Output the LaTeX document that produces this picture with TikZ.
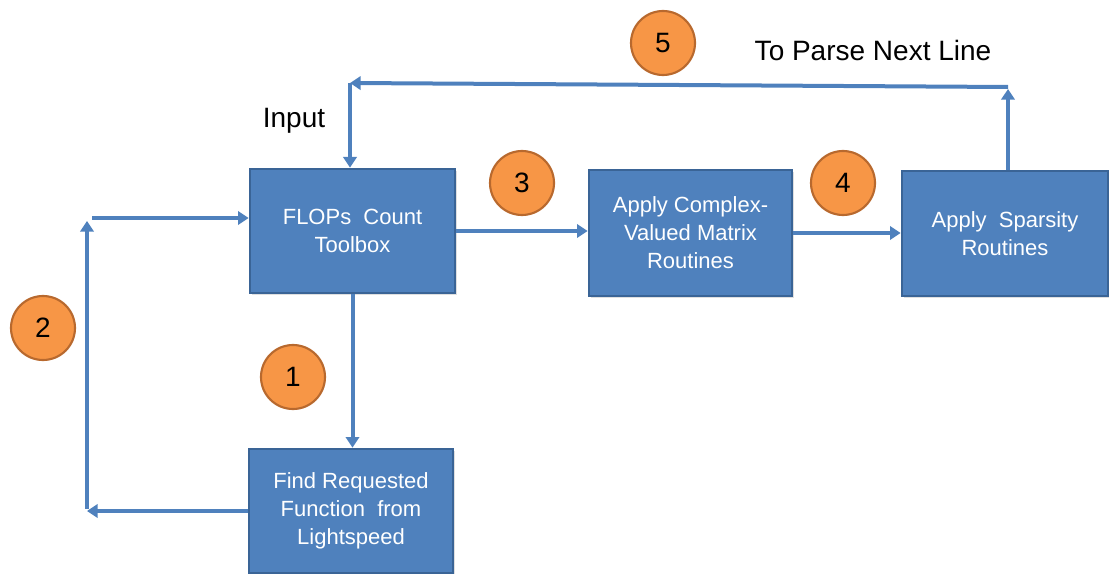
\documentclass[tikz,border=0pt]{standalone}
\usepackage{fontspec}
\setmainfont{Liberation Sans}
\usetikzlibrary{arrows.meta,shadows}
\definecolor{boxblue}{HTML}{4F81BD}
\definecolor{boxedge}{HTML}{3A6496}
\definecolor{badgefill}{HTML}{F79646}
\definecolor{badgeedge}{HTML}{B8692E}
\definecolor{flowblue}{HTML}{4F81BD}
\tikzset{
  stagebox/.style={draw=boxedge, line width=2pt, fill=boxblue, text=white,
    align=center, font=\fontsize{16.5}{21}\selectfont, inner sep=0pt,
    drop shadow={shadow xshift=1.2pt, shadow yshift=-1.2pt, opacity=0.25}},
  badge/.style={circle, draw=badgeedge, line width=1.6pt, fill=badgefill,
    minimum size=48pt, inner sep=0pt, font=\fontsize{21}{21}\selectfont},
  caption/.style={font=\fontsize{21}{24}\selectfont, inner sep=0pt},
  flow/.style={draw=flowblue, line width=3pt,
    -{Triangle[length=8pt,width=10pt]}},
  flowline/.style={draw=flowblue, line width=3pt}
}
\begin{document}
\begin{tikzpicture}[x=0.75pt,y=-0.75pt]
  \useasboundingbox (0,0) rectangle (1109,574);

  % processing stages
  \node[stagebox, minimum width=153.75pt, minimum height=93pt] (toolbox) at (352.5,231)
    {FLOPs\ \ Count\\Toolbox};
  \node[stagebox, minimum width=152.25pt, minimum height=94.5pt] (complex) at (690.5,233)
    {Apply Complex-\\Valued Matrix\\Routines};
  \node[stagebox, minimum width=154.5pt, minimum height=93.75pt] (sparse) at (1005,233.5)
    {Apply\ \ Sparsity\\Routines};
  \node[stagebox, minimum width=153pt, minimum height=93pt] (find) at (351,511)
    {Find Requested\\Function\ \ from\\Lightspeed};

  % step numbers
  \node[badge] (s1) at (293,377) {1};
  \node[badge] (s2) at (43,328) {2};
  \node[badge] (s3) at (522,183) {3};
  \node[badge] (s4) at (843,183) {4};
  \node[badge] (s5) at (663,43) {5};

  % labels
  \node[caption] (input) at (294,121) {Input};
  \node[caption] (next) at (873,50) {To Parse Next Line};

  % loop corners
  \coordinate (topR) at (1008,87);
  \coordinate (topL) at (350,83);
  \coordinate (botL) at (87,509);
  \coordinate (upL) at (87,221);
  \coordinate (inL) at (92,218);

  % main path
  \draw[flow] (toolbox.south) -- (toolbox.south |- find.north);
  \draw[flow] (find.west) -- (find.west -| botL);
  \draw[flow] (botL) -- (upL);
  \draw[flow] (inL) -- (inL -| toolbox.west);
  \draw[flow] (toolbox.east) -- (toolbox.east -| complex.west);
  \draw[flow] (complex.east) -- (complex.east -| sparse.west);

  % return to the next line
  \draw[flow] (sparse.north -| topR) -- ([yshift=-1.5pt]topR);
  \draw[flow] (topR) -- (topL);
  \draw[flow] (topL) -- (topL |- toolbox.north);
\end{tikzpicture}
\end{document}
